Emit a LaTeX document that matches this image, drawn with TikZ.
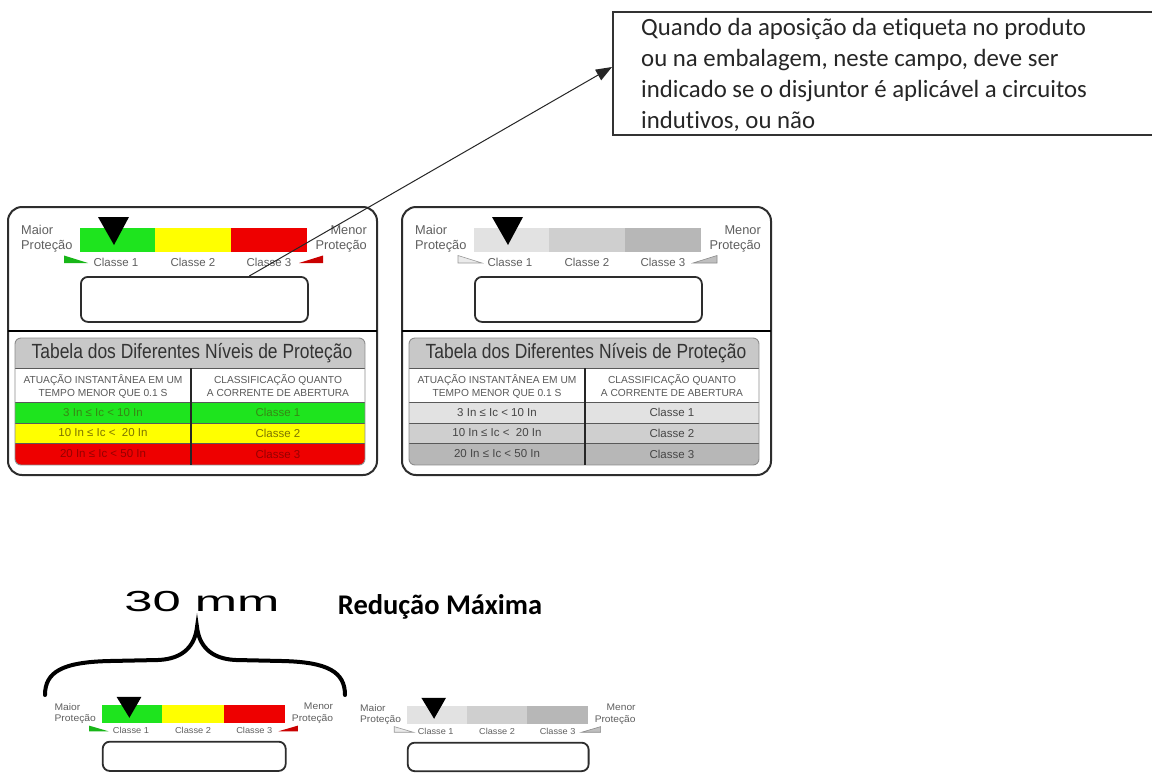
\documentclass[tikz,border=0pt]{standalone}
\usepackage{fontspec}
\setmainfont{Liberation Sans}
\newfontfamily\calibri[Ligatures=NoCommon]{Carlito}
\usepackage{graphicx}
\usetikzlibrary{arrows.meta,calc}

\definecolor{lgreen}{RGB}{30,228,30}
\definecolor{lyellow}{RGB}{255,255,0}
\definecolor{lred}{RGB}{238,0,0}
\definecolor{gA}{RGB}{226,226,226}
\definecolor{gB}{RGB}{207,207,207}
\definecolor{gC}{RGB}{183,183,183}
\definecolor{ghead}{RGB}{200,200,200}
\definecolor{labtext}{RGB}{95,95,95}
\definecolor{cardline}{RGB}{45,45,45}
\definecolor{tgreen}{RGB}{55,135,20}
\definecolor{tyellow}{RGB}{125,115,0}
\definecolor{tred}{RGB}{150,0,0}
\definecolor{tgray}{RGB}{70,70,70}

\tikzset{
  lbl/.style={font=\fontsize{11.5}{14.5}\selectfont, text=labtext, inner sep=0pt},
  sidelbl/.style={font=\fontsize{12.8}{15}\selectfont, text=labtext, inner sep=0pt},
  ibox/.style={draw=cardline, line width=1.8pt, rounded corners=7pt, fill=white, inner sep=0pt},
  cardframe/.style={draw=cardline, line width=2pt, rounded corners=14pt},
  divider/.style={draw=black, line width=2.6pt},
  tabframe/.style={draw=black!45, line width=0.9pt, rounded corners=6pt},
  rowline/.style={draw=black!65, line width=0.8pt},
  colline/.style={draw=black!85, line width=1.5pt},
  titletext/.style={font=\fontsize{20.5}{21}\selectfont, text=black!80, inner sep=0pt},
  headtext/.style={font=\fontsize{10.2}{13}\selectfont, text=black!65, align=center, inner sep=0pt},
  rowtext/.style={font=\fontsize{11.5}{12}\selectfont, inner sep=0pt},
  notetext/.style={font=\calibri\fontsize{24.8}{31}\selectfont, align=left, inner sep=0pt, anchor=north west, text=black!85},
  connector/.style={draw=black!85, line width=1pt, -{Triangle[length=16pt,width=12pt]}},
  bracestyle/.style={draw=black, line width=4pt, line cap=round},
}

% #1 prefix, #2-#4 segment colours, #5 left wedge style, #6 right wedge style, #7 box bottom
\newcommand\labtop[7]{%
  \fill[#2] (0,0) rectangle (75,24);
  \fill[#3] (75,0) rectangle (151,24);
  \fill[#4] (151,0) rectangle (227,24);
  \fill[black] (18,-11) -- (49,-11) -- (34,17) -- cycle;
  \node[sidelbl, anchor=west, align=left] (#1-maior) at (-59,11) {Maior\\Proteção};
  \node[sidelbl, anchor=east, align=right] (#1-menor) at (287,11) {Menor\\Proteção};
  \node[lbl] (#1-c1) at (36,34) {Classe 1};
  \node[lbl] (#1-c2) at (113,34) {Classe 2};
  \node[lbl] (#1-c3) at (189,34) {Classe 3};
  \path[#5] (-16,27.5) -- (-16,35) -- (8,35) -- cycle;
  \path[#6] (219,35) -- (243,35) -- (243,27.5) -- cycle;
  \node[ibox, minimum width=227pt, minimum height=#7-48, anchor=north west] (#1-box) at (0,48) {};
}

% #1 prefix, #2 header fill, #3-#5 row fills, #6-#8 row text colours
\newcommand\labtable[8]{%
  \begin{scope}
    \clip[rounded corners=6pt] (15,338) rectangle (365,465);
    \fill[#2] (15,338) rectangle (365,368);
    \fill[white] (15,368) rectangle (365,402);
    \fill[#3] (15,402) rectangle (365,423);
    \fill[#4] (15,423) rectangle (365,443);
    \fill[#5] (15,443) rectangle (365,465);
  \end{scope}
  \draw[rowline] (15,368) -- (365,368);
  \draw[rowline] (15,402) -- (365,402);
  \draw[rowline] (15,423) -- (365,423);
  \draw[rowline] (15,443) -- (365,443);
  \draw[tabframe] (15,338) rectangle (365,465);
  \draw[colline] (191,368) -- (191,465);
  \node[titletext] (#1-title) at (192,353) {\scalebox{0.85}[1]{Tabela dos Diferentes Níveis de Proteção}};
  \node[headtext] (#1-h1) at (103,386) {ATUAÇÃO INSTANTÂNEA EM UM\\TEMPO MENOR QUE 0.1 S};
  \node[headtext] (#1-h2) at (278,386) {CLASSIFICAÇÃO QUANTO\\A CORRENTE DE ABERTURA};
  \node[rowtext, text=#6] (#1-r1a) at (103,412.5) {3 In ≤ Ic < 10 In};
  \node[rowtext, text=#6] (#1-r1b) at (278,412.5) {Classe 1};
  \node[rowtext, text=#7] (#1-r2a) at (103,433) {10 In ≤ Ic <~ 20 In};
  \node[rowtext, text=#7] (#1-r2b) at (278,433) {Classe 2};
  \node[rowtext, text=#8] (#1-r3a) at (103,454) {20 In ≤ Ic < 50 In};
  \node[rowtext, text=#8] (#1-r3b) at (278,454) {Classe 3};
  \draw[cardframe] (8,207) rectangle (377,475);
  \draw[divider] (8,331) -- (377,331);
}

\begin{document}
\begin{tikzpicture}[x=1pt,y=-1pt]
\useasboundingbox (0,0) rectangle (1152,772);
\fill[white] (0,0) rectangle (1152,772);

% ---- big colour card
\labtable{LT}{ghead}{lgreen}{lyellow}{lred}{tgreen}{tyellow}{tred}
\begin{scope}[shift={(80,228)}]
  \labtop{L}{lgreen}{lyellow}{lred}{fill=lgreen!80!black}{fill=lred!85!black}{93}
\end{scope}

% ---- big grey card
\begin{scope}[shift={(394,0)}]
  \labtable{RT}{ghead}{gA}{gB}{gC}{tgray}{tgray}{tgray}
  \begin{scope}[shift={(80,228)}]
    \labtop{R}{gA}{gB}{gC}{draw=black!40, fill=black!8, line width=0.6pt}{draw=black!45, fill=black!25, line width=0.6pt}{93}
  \end{scope}
\end{scope}

% ---- note box and arrow
\draw[draw=black!80, line width=1.1pt] (1152,12) -- (613,12) -- (613,135) -- (1152,135);
\node[notetext] (note) at (641,18.5) {Quando da aposição da etiqueta no produto\\ou na embalagem, neste campo, deve ser\\indicado se o disjuntor é aplicável a circuitos\\indutivos, ou não};
\coordinate (arrS) at ($(L-box.north west)!0.74!(L-box.north east)$);
\coordinate (arrT) at (612,67);
\draw[connector] (arrS) -- (arrT);

% ---- reduced size
\node[inner sep=0pt] (mm) at (202,602) {\scalebox{1.75}[1]{\fontsize{29}{29}\selectfont 30 mm}};
\node[inner sep=0pt] (redmax) at (440,607) {\calibri\bfseries\fontsize{28.5}{29}\selectfont Redução Máxima};
\draw[bracestyle] (45,695) .. controls (45,672) and (62,662) .. (110,661) -- (158,660)
  .. controls (184,659) and (195,645) .. (197,627)
  .. controls (199,645) and (210,659) .. (236,660) -- (282,661)
  .. controls (328,662) and (345,672) .. (345,695);

\begin{scope}[shift={(102,705)}, xscale=0.806, yscale=0.75, transform shape]
  \labtop{SL}{lgreen}{lyellow}{lred}{fill=lgreen!80!black}{fill=lred!85!black}{87}
\end{scope}
\begin{scope}[shift={(407,706)}, xscale=0.797, yscale=0.75, transform shape]
  \labtop{SR}{gA}{gB}{gC}{draw=black!40, fill=black!8, line width=0.6pt}{draw=black!45, fill=black!25, line width=0.6pt}{86}
\end{scope}
\end{tikzpicture}
\end{document}
